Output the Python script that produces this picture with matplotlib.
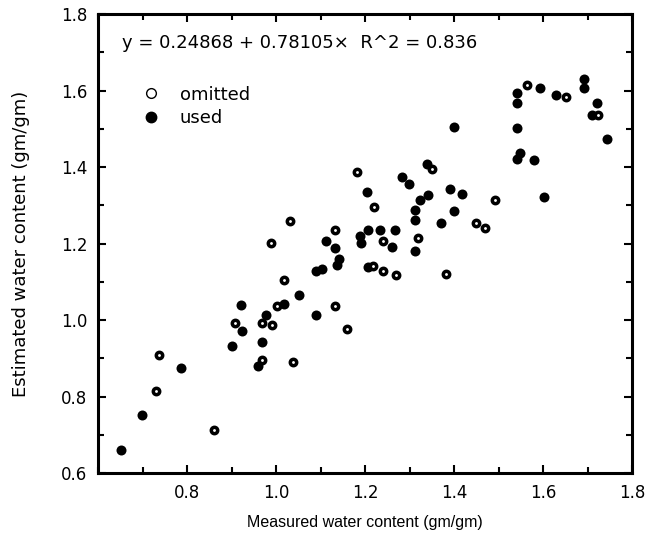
import numpy as np
import matplotlib
matplotlib.use("Agg")
import matplotlib.pyplot as plt
from matplotlib.lines import Line2D
from matplotlib.ticker import MultipleLocator

plt.rcParams['font.family'] = ['Liberation Sans', 'DejaVu Sans']

# points used in the fit (filled)
used_x = [0.650, 0.699, 0.786, 0.901, 0.921, 0.922, 0.960, 0.967, 0.978, 1.018,
          1.052, 1.089, 1.089, 1.102, 1.111, 1.132, 1.140, 1.136, 1.188, 1.190,
          1.203, 1.207, 1.233, 1.267, 1.207, 1.261, 1.282, 1.299, 1.312, 1.312,
          1.312, 1.323, 1.342, 1.340, 1.370, 1.391, 1.417, 1.400, 1.400, 1.542,
          1.542, 1.542, 1.547, 1.542, 1.580, 1.593, 1.601, 1.629, 1.692, 1.692,
          1.709, 1.722, 1.743]
used_y = [0.660, 0.752, 0.875, 0.932, 1.039, 0.972, 0.880, 0.943, 1.013, 1.042,
          1.065, 1.013, 1.128, 1.135, 1.207, 1.188, 1.161, 1.144, 1.219, 1.201,
          1.335, 1.237, 1.237, 1.237, 1.138, 1.192, 1.375, 1.356, 1.288, 1.263,
          1.181, 1.314, 1.327, 1.408, 1.255, 1.342, 1.331, 1.285, 1.504, 1.595,
          1.567, 1.503, 1.436, 1.421, 1.418, 1.608, 1.322, 1.590, 1.630, 1.606,
          1.536, 1.567, 1.474]

# points left out (open)
omit_x = [0.729, 0.736, 0.860, 0.907, 0.967, 0.969, 0.988, 0.990, 1.001, 1.018,
          1.031, 1.038, 1.132, 1.132, 1.160, 1.181, 1.218, 1.220, 1.241, 1.241,
          1.269, 1.319, 1.350, 1.382, 1.449, 1.470, 1.492, 1.563, 1.652, 1.724]
omit_y = [0.814, 0.908, 0.712, 0.993, 0.993, 0.897, 1.202, 0.987, 1.037, 1.105,
          1.260, 0.891, 1.037, 1.235, 0.978, 1.388, 1.141, 1.295, 1.207, 1.129,
          1.118, 1.216, 1.394, 1.120, 1.255, 1.240, 1.314, 1.614, 1.584, 1.536]

wide = ['DejaVu Sans']

fig = plt.figure(figsize=(6.51, 5.47), dpi=100)
ax = fig.add_axes([0.151, 0.135, 0.820, 0.839])

ax.plot(used_x, used_y, 'o', color='black', markersize=7.2, markeredgewidth=0, linestyle='none')
ax.plot(omit_x, omit_y, 'o', markerfacecolor='white', markeredgecolor='black',
        markersize=4.6, markeredgewidth=2.5, linestyle='none')

ax.set_xlim(0.6, 1.8)
ax.set_ylim(0.6, 1.8)
ax.xaxis.set_major_locator(MultipleLocator(0.2))
ax.yaxis.set_major_locator(MultipleLocator(0.2))
ax.xaxis.set_minor_locator(MultipleLocator(0.1))
ax.yaxis.set_minor_locator(MultipleLocator(0.1))
ax.set_xticks(np.arange(0.8, 1.81, 0.2))
ax.set_xticklabels(['0.8', '1.0', '1.2', '1.4', '1.6', '1.8'])
ax.tick_params(which='both', direction='in', top=True, right=True, width=1.5)
ax.tick_params(which='major', length=6, pad=8)
ax.tick_params(which='minor', length=4)
for lab in ax.get_xticklabels() + ax.get_yticklabels():
    lab.set_family(wide)
    lab.set_fontsize(12)
for s in ax.spines.values():
    s.set_linewidth(2.2)

ax.set_xlabel('Measured water content (gm/gm)', fontsize=11.5, labelpad=9)
ax.set_ylabel('Estimated water content (gm/gm)', fontsize=13, family=wide, labelpad=22)

ax.text(0.653, 1.725, 'y = 0.24868 + 0.78105\u00d7  R^2 = 0.836', fontsize=13,
        family=wide, va='center', ha='left')

handles = [Line2D([], [], marker='o', linestyle='none', markerfacecolor='white',
                  markeredgecolor='black', markersize=7, markeredgewidth=1),
           Line2D([], [], marker='o', linestyle='none', color='black', markersize=7.5)]
ax.legend(handles, ['omitted', 'used'], loc='upper left', bbox_to_anchor=(0.048, 0.88),
          frameon=False, prop={'family': wide, 'size': 13}, handlelength=1.2,
          handletextpad=1.0, labelspacing=0.3)

fig.savefig('out.png', dpi=100)
